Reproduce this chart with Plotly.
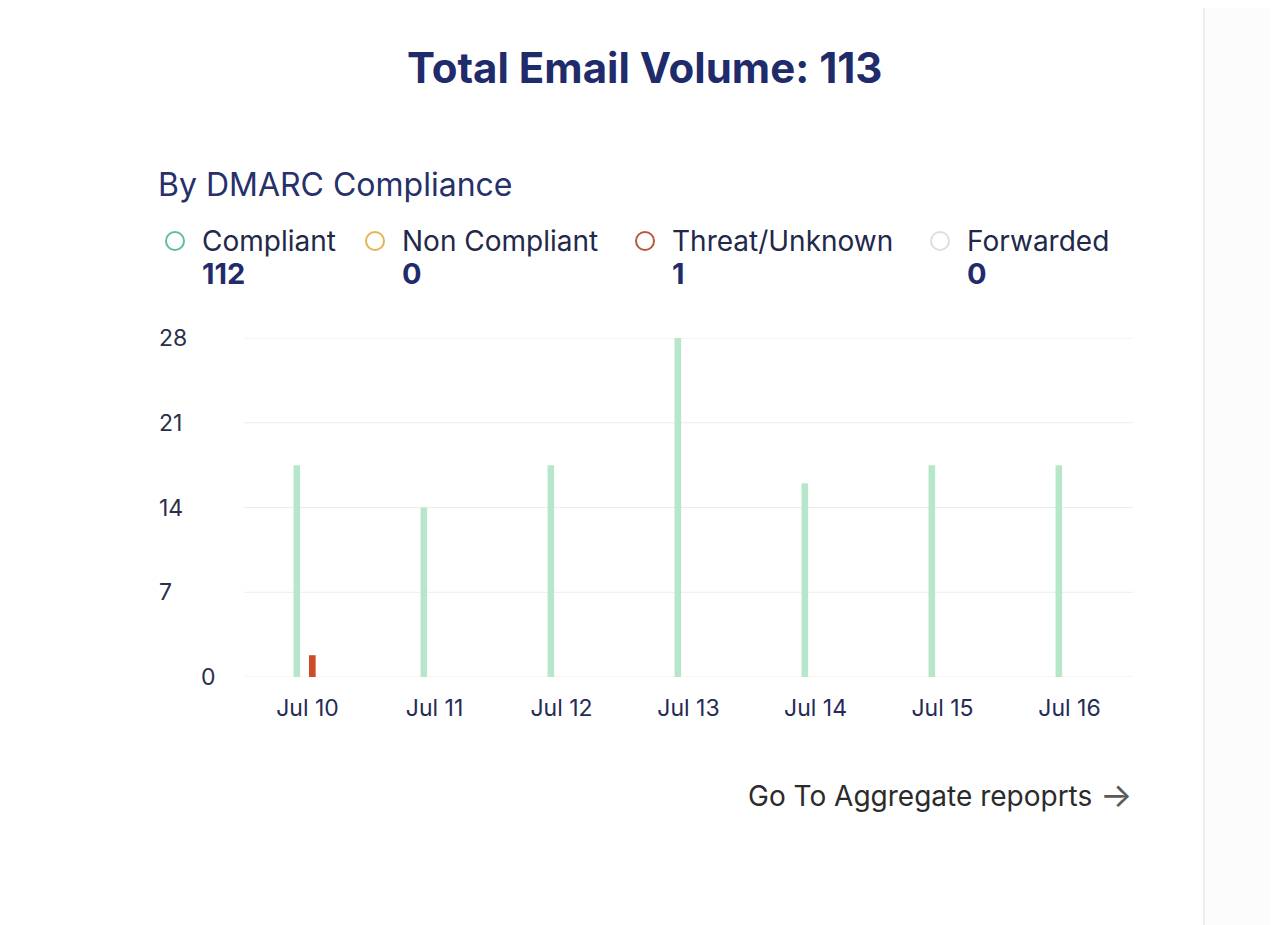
import plotly.graph_objects as go

# ---- data ----
dates = ["Jul 10", "Jul 11", "Jul 12", "Jul 13", "Jul 14", "Jul 15", "Jul 16"]
compliant = [17.5, 14, 17.5, 28, 16, 17.5, 17.5]
non_compliant = [0, 0, 0, 0, 0, 0, 0]
threat = [1.8, 0, 0, 0, 0, 0, 0]
y_ticks = [0, 7, 14, 21, 28]
legend_names = ["Compliant", "Non Compliant", "Threat/Unknown", "Forwarded"]
legend_totals = [112, 0, 1, 0]
total_volume = 113

# ---- styling ----
W, H = 1277, 925
OFF = 8  # page body margin
WF, HF = W - OFF, H - OFF
L, R, T, B = 244, 1133, 338, 677  # plot area in page pixels
NAVY = "#1f2b6b"
TEXT = "#22284a"
GREEN = "#b6e7cb"
RED = "#cf4a26"
legend_colors = ["#5cbf9c", "#e5b452", "#b9573a", "#dedede"]
legend_x = [175, 375, 645, 940]
FONT = "Inter, Roboto, sans-serif"


def px(x):
    return (x - L) / (R - L)


def py(y):
    return (B - y) / (B - T)


bw = 0.052
fig = go.Figure()
fig.add_trace(go.Bar(x=dates, y=compliant, name="Compliant", marker_color=GREEN,
                     width=bw, offset=-0.084 - bw / 2, marker_line_width=0))
fig.add_trace(go.Bar(x=dates, y=non_compliant, name="Non Compliant", marker_color="#e5b452",
                     width=bw, offset=-0.022 - bw / 2, marker_line_width=0))
fig.add_trace(go.Bar(x=dates, y=threat, name="Threat/Unknown", marker_color=RED,
                     width=bw, offset=0.038 - bw / 2, marker_line_width=0))

annotations = []
shapes = []

# gridlines (including edges)
for v in y_ticks:
    shapes.append(dict(type="line", xref="paper", yref="y", x0=0, x1=1, y0=v, y1=v,
                       line=dict(color="#ececec", width=1), layer="below"))

# title
annotations.append(dict(text=f"<b>Total Email Volume: {total_volume}</b>", xref="paper", yref="paper",
                        x=px(644), y=py(67), xanchor="center", yanchor="middle", showarrow=False,
                        font=dict(family=FONT, size=42, color=NAVY)))
# subtitle
annotations.append(dict(text="By DMARC Compliance", xref="paper", yref="paper",
                        x=px(156), y=py(184), xanchor="left", yanchor="middle", showarrow=False,
                        font=dict(family=FONT, size=32, color="#26306a")))
# legend
for name, tot, col, lx in zip(legend_names, legend_totals, legend_colors, legend_x):
    shapes.append(dict(type="circle", xref="paper", yref="paper",
                       x0=px(lx - 9), x1=px(lx + 9), y0=py(241 + 9), y1=py(241 - 9),
                       line=dict(color=col, width=2), fillcolor="white"))
    annotations.append(dict(text=name, xref="paper", yref="paper", x=px(lx + 25), y=py(241),
                            xanchor="left", yanchor="middle", showarrow=False,
                            font=dict(family=FONT, size=28, color=TEXT)))
    annotations.append(dict(text=f"<b>{tot}</b>", xref="paper", yref="paper", x=px(lx + 25), y=py(273),
                            xanchor="left", yanchor="middle", showarrow=False,
                            font=dict(family=FONT, size=29, color=NAVY)))
# y tick labels
for v in y_ticks:
    xl = 199 if v == 0 else 157
    annotations.append(dict(text=str(v), xref="paper", yref="y", x=px(xl), y=v,
                            xanchor="left", yanchor="middle", showarrow=False,
                            font=dict(family=FONT, size=23, color="#2a2f4a")))
# link
annotations.append(dict(text="Go To Aggregate repoprts", xref="paper", yref="paper",
                        x=px(1094), y=py(796), xanchor="right", yanchor="middle", showarrow=False,
                        font=dict(family=FONT, size=28, color="#2b2b2b")))
annotations.append(dict(text="\u2192", xref="paper", yref="paper",
                        x=px(1116), y=py(794), xanchor="center", yanchor="middle", showarrow=False,
                        font=dict(family=FONT, size=34, color="#5a5a5a")))
# right separator / panel
shapes.append(dict(type="rect", xref="paper", yref="paper", x0=px(1204), x1=px(1300),
                   y0=py(-20), y1=py(950), fillcolor="#fcfcfc", line_width=0, layer="below"))
shapes.append(dict(type="line", xref="paper", yref="paper", x0=px(1204), x1=px(1204),
                   y0=py(-20), y1=py(950), line=dict(color="#eeeeee", width=2)))

fig.update_layout(
    width=WF, height=HF, autosize=False,
    margin=dict(l=L - OFF, r=W - R, t=T - OFF, b=H - B, pad=0),
    paper_bgcolor="white", plot_bgcolor="rgba(0,0,0,0)",
    showlegend=False, barmode="overlay",
    annotations=annotations, shapes=shapes,
    xaxis=dict(type="category", range=[-0.5, 6.5], showgrid=False, zeroline=False,
               showline=False, ticks="", ticklabelstandoff=15,
               tickfont=dict(family=FONT, size=23, color="#252b55")),
    yaxis=dict(range=[0, 28], tickvals=y_ticks, showticklabels=False, showgrid=False,
               zeroline=False, showline=False, fixedrange=True),
)
fig.write_html("out.html")
